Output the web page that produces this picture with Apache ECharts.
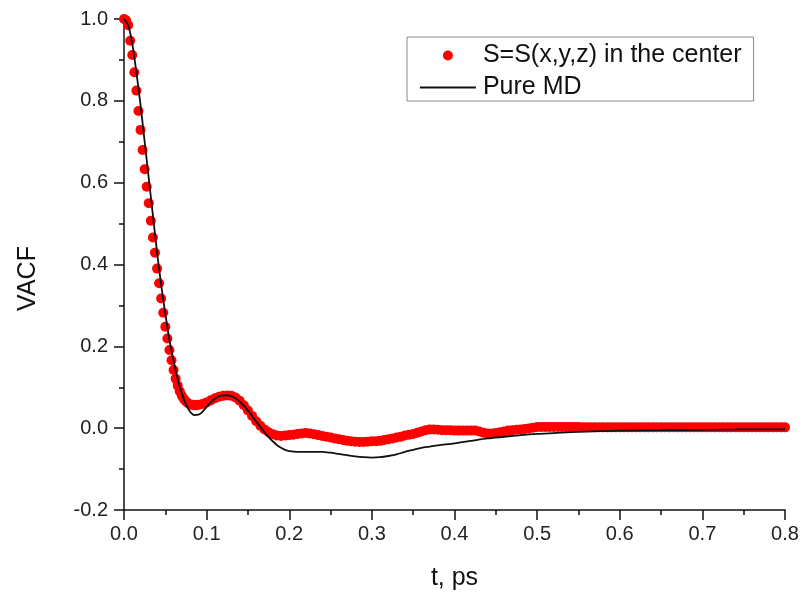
<!DOCTYPE html>
<html>
<head>
<meta charset="utf-8">
<script src="https://cdn.jsdelivr.net/npm/echarts@6/dist/echarts.min.js"></script>
<style>
html,body{margin:0;padding:0;background:#fff;}
#chart{width:802px;height:592px;}
</style>
</head>
<body>
<div id="chart"></div>
<script>
// ---- data ----
const seriesNames = ['S=S(x,y,z) in the center', 'Pure MD'];
const xTicks = ['0.0','0.1','0.2','0.3','0.4','0.5','0.6','0.7','0.8'];
const yTicks = ['-0.2','0.0','0.2','0.4','0.6','0.8','1.0'];

// red dots: [t (ps), VACF]
const redPoints = [
  [0,1.0],[0.0025,0.997],[0.005,0.985],[0.0075,0.947],[0.01,0.912],[0.0125,0.870],
  [0.015,0.825],[0.0175,0.775],[0.02,0.729],[0.0225,0.680],[0.025,0.633],[0.0275,0.590],
  [0.03,0.550],[0.0325,0.507],[0.035,0.466],[0.0375,0.429],[0.04,0.390],[0.0425,0.354],
  [0.045,0.317],[0.0475,0.282],[0.05,0.248],[0.0525,0.219],[0.055,0.191],[0.0575,0.166],
  [0.06,0.142],[0.0625,0.121],[0.065,0.104],[0.0675,0.090],[0.07,0.079],[0.0725,0.071],
  [0.075,0.065],[0.0775,0.061],[0.08,0.058],[0.0825,0.057],[0.085,0.056],[0.0875,0.056],
  [0.09,0.057],[0.095,0.059],[0.1,0.063],[0.105,0.068],[0.11,0.073],[0.115,0.077],
  [0.12,0.079],[0.125,0.080],[0.13,0.079],[0.135,0.075],[0.14,0.067],[0.145,0.056],
  [0.15,0.043],[0.155,0.030],[0.16,0.017],[0.165,0.006],[0.17,-0.003],[0.175,-0.010],
  [0.18,-0.015],[0.185,-0.018],[0.19,-0.019],[0.195,-0.018],[0.2,-0.017],[0.205,-0.016],
  [0.21,-0.014],[0.215,-0.013],[0.22,-0.012],[0.225,-0.013],[0.23,-0.015],[0.235,-0.017],
  [0.24,-0.019],[0.245,-0.021],[0.25,-0.023],[0.255,-0.025],[0.26,-0.027],[0.265,-0.029],
  [0.27,-0.031],[0.275,-0.032],[0.28,-0.033],[0.285,-0.034],[0.29,-0.034],[0.295,-0.033],
  [0.3,-0.032],[0.305,-0.032],[0.31,-0.031],[0.315,-0.029],[0.32,-0.027],[0.325,-0.025],
  [0.33,-0.023],[0.335,-0.021],[0.34,-0.018],[0.345,-0.016],[0.35,-0.014],[0.355,-0.011],
  [0.36,-0.008],[0.365,-0.005],[0.37,-0.003],[0.375,-0.003],[0.38,-0.004],[0.385,-0.005],
  [0.39,-0.005],[0.395,-0.005],[0.4,-0.006],[0.405,-0.006],[0.41,-0.006],[0.415,-0.006],
  [0.42,-0.006],[0.425,-0.006],[0.43,-0.008],[0.435,-0.011],[0.44,-0.013],[0.445,-0.013],
  [0.45,-0.012],[0.455,-0.010],[0.46,-0.008],[0.465,-0.006],[0.47,-0.005],[0.475,-0.004],
  [0.48,-0.003],[0.485,-0.002],[0.49,-0.001],[0.495,0.001],[0.5,0.003],[0.505,0.003],
  [0.51,0.003],[0.515,0.003],[0.52,0.003],[0.525,0.003],[0.53,0.003],[0.535,0.003],
  [0.54,0.003],[0.545,0.003],[0.55,0.003],[0.555,0.002],[0.56,0.002],[0.565,0.002],
  [0.57,0.002],[0.575,0.002],[0.58,0.002],[0.585,0.002],[0.59,0.002],[0.595,0.002],
  [0.6,0.002],[0.605,0.002],[0.61,0.002],[0.615,0.002],[0.62,0.002],[0.625,0.002],
  [0.63,0.002],[0.635,0.002],[0.64,0.002],[0.645,0.002],[0.65,0.002],[0.655,0.002],
  [0.66,0.002],[0.665,0.002],[0.67,0.002],[0.675,0.002],[0.68,0.002],[0.685,0.002],
  [0.69,0.002],[0.695,0.002],[0.7,0.002],[0.705,0.002],[0.71,0.002],[0.715,0.002],
  [0.72,0.002],[0.725,0.002],[0.73,0.002],[0.735,0.002],[0.74,0.002],[0.745,0.002],
  [0.75,0.002],[0.755,0.002],[0.76,0.002],[0.765,0.002],[0.77,0.002],[0.775,0.002],
  [0.78,0.002],[0.785,0.002],[0.79,0.002],[0.795,0.002],[0.8,0.002]
];

// black line (Pure MD): [t (ps), VACF]
const mdPoints = [
  [0,1.0],[0.005,0.985],[0.01,0.94],[0.015,0.87],[0.02,0.79],[0.025,0.70],[0.03,0.61],
  [0.035,0.52],[0.04,0.43],[0.045,0.35],[0.05,0.28],[0.055,0.215],[0.06,0.165],
  [0.065,0.12],[0.07,0.085],[0.075,0.058],[0.08,0.040],[0.085,0.032],[0.09,0.033],
  [0.095,0.040],[0.1,0.052],[0.105,0.063],[0.11,0.072],[0.115,0.078],[0.12,0.080],
  [0.125,0.080],[0.13,0.078],[0.135,0.073],[0.14,0.065],[0.145,0.055],[0.15,0.043],
  [0.155,0.030],[0.16,0.016],[0.165,0.003],[0.17,-0.010],[0.175,-0.022],[0.18,-0.032],
  [0.185,-0.041],[0.19,-0.048],[0.195,-0.053],[0.2,-0.056],[0.21,-0.058],[0.22,-0.058],
  [0.23,-0.058],[0.24,-0.058],[0.25,-0.060],[0.26,-0.063],[0.27,-0.066],[0.28,-0.069],
  [0.29,-0.071],[0.3,-0.072],[0.31,-0.071],[0.32,-0.068],[0.33,-0.064],[0.34,-0.058],
  [0.35,-0.053],[0.36,-0.048],[0.37,-0.045],[0.38,-0.042],[0.4,-0.037],[0.42,-0.031],
  [0.44,-0.025],[0.46,-0.021],[0.48,-0.017],[0.5,-0.014],[0.52,-0.012],[0.55,-0.009],
  [0.6,-0.006],[0.65,-0.005],[0.7,-0.004],[0.75,-0.003],[0.8,-0.003]
];

const FONT = '"Liberation Sans", Arial, sans-serif';
const chart = echarts.init(document.getElementById('chart'), null, {renderer: 'canvas'});
chart.setOption({
  animation: false,
  backgroundColor: '#ffffff',
  grid: {left: 124, right: 17, top: 19, bottom: 82, containLabel: false, outerBoundsMode: 'none'},
  legend: {
    left: 407, top: 37,
    orient: 'vertical',
    itemWidth: 56, itemHeight: 10, itemGap: 7,
    padding: [6, 12, 1, 12],
    borderColor: '#888', borderWidth: 1,
    textStyle: {fontFamily: FONT, fontSize: 25, color: '#111', lineHeight: 24, padding: [0,0,0,2]},
    data: [
      {name: seriesNames[0], icon: 'circle'},
      {name: seriesNames[1], itemStyle: {opacity: 0}, lineStyle: {color: '#111', width: 1.8, opacity: 1}}
    ]
  },
  xAxis: {
    type: 'value', min: 0, max: 0.8, interval: 0.1,
    name: 't, ps', nameLocation: 'middle', nameGap: 56,
    nameTextStyle: {fontFamily: FONT, fontSize: 25, color: '#111'},
    axisLine: {show: true, onZero: false, lineStyle: {color: '#111', width: 1.5}},
    axisTick: {show: true, length: 10, lineStyle: {color: '#111', width: 1.5}},
    minorTick: {show: true, splitNumber: 2, length: 5, lineStyle: {color: '#111', width: 1.5}},
    splitLine: {show: false},
    axisLabel: {fontFamily: FONT, fontSize: 20, color: '#222', margin: 14,
      formatter: v => xTicks[Math.round(v * 10)]}
  },
  yAxis: {
    type: 'value', min: -0.2, max: 1.0, interval: 0.2,
    name: 'VACF', nameLocation: 'middle', nameGap: 83, nameRotate: 90,
    nameTextStyle: {fontFamily: FONT, fontSize: 25, color: '#111', padding: [0, 28, 0, 0]},
    axisLine: {show: true, onZero: false, lineStyle: {color: '#111', width: 1.5}},
    axisTick: {show: true, length: 10, lineStyle: {color: '#111', width: 1.5}},
    minorTick: {show: true, splitNumber: 2, length: 5, lineStyle: {color: '#111', width: 1.5}},
    splitLine: {show: false},
    axisLabel: {fontFamily: FONT, fontSize: 20, color: '#222', margin: 16,
      formatter: v => yTicks[Math.round((v + 0.2) * 5)]}
  },
  series: [
    {
      name: seriesNames[0], type: 'scatter',
      data: redPoints,
      symbol: 'circle', symbolSize: 10,
      itemStyle: {color: '#ff0000', opacity: 1},
      z: 2
    },
    {
      name: seriesNames[1], type: 'line',
      data: mdPoints,
      showSymbol: false, symbol: 'none', smooth: 0.3,
      lineStyle: {color: '#111', width: 1.8},
      itemStyle: {color: '#111'},
      z: 3
    }
  ]
});
</script>
</body>
</html>
